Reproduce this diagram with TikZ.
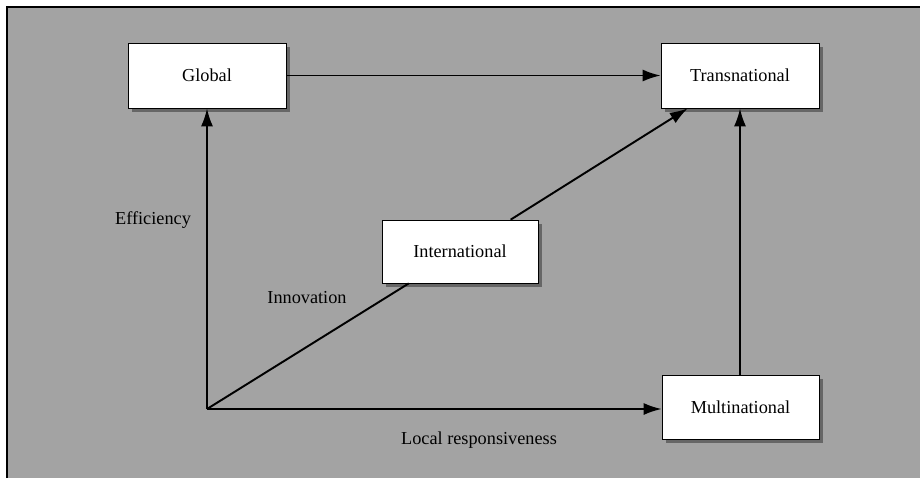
\documentclass[tikz,border=0pt]{standalone}
\usepackage{fontspec}
\setmainfont{Liberation Serif}
\usetikzlibrary{arrows.meta,shadows}
\tikzset{
  typebox/.style={draw, thin, fill=white, inner sep=0pt, font=\fontsize{10.4}{12}\selectfont,
    drop shadow={shadow xshift=.08cm, shadow yshift=-.08cm, fill=black!60, opacity=1}},
  axislabel/.style={font=\fontsize{10.4}{12}\selectfont},
  link/.style={line width=1.1pt}
}
\begin{document}
\begin{tikzpicture}[>={Latex[length=3.6mm,width=2.4mm]}, x=.02cm, y=-.02cm]
\useasboundingbox (0,0) rectangle (920,478);
\fill [black!36] (7,7) rectangle (920,478);
\draw [thick] (7,478)--(7,7)--(920,7);
% strategy boxes
\node [typebox, minimum width=3.16cm, minimum height=1.3cm] (global) at (207,75.5) {Global};
\node [typebox, minimum width=3.16cm, minimum height=1.3cm] (trans) at (740,75.5) {Transnational};
\node [typebox, minimum width=3.12cm, minimum height=1.26cm] (inter) at (460,251.5) {International};
\node [typebox, minimum width=3.14cm, minimum height=1.28cm] (multi) at (740.5,407) {Multinational};
\coordinate (o) at (207,409);
% arrows
\draw [->, link] (o)--(global);
\draw [->, link] (global)--(trans);
\draw [->, link] (o)--(multi.west |- o);
\draw [->, link] (multi.north -| trans)--(trans);
\draw [link] (o)--(inter);
\draw [->, link] (inter)--(trans);
\node [axislabel] (eff) at (153,220) {Efficiency};
\node [axislabel] (inno) at (307,298) {Innovation};
\node [axislabel] (local) at (479,440) {Local responsiveness};
\end{tikzpicture}
\end{document}
